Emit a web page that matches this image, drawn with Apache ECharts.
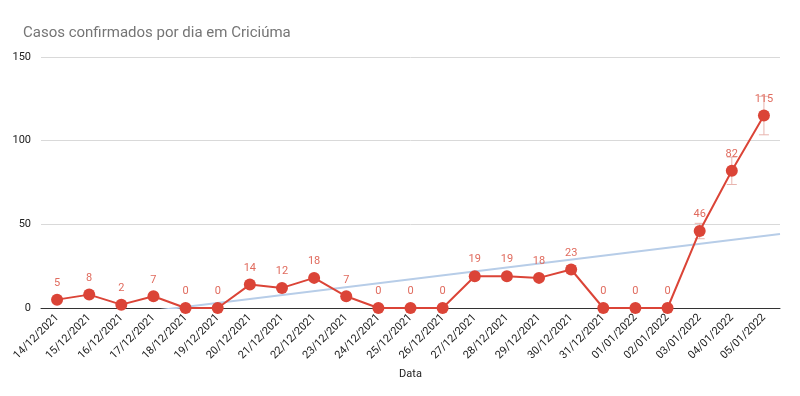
<!DOCTYPE html>
<html><head><meta charset="utf-8">
<script src="https://cdn.jsdelivr.net/npm/echarts@6/dist/echarts.min.js"></script>
<style>html,body{margin:0;padding:0;background:#fff}#c{width:800px;height:396px}</style>
</head><body><div id="c"></div>
<script>
const categories = ['14/12/2021','15/12/2021','16/12/2021','17/12/2021','18/12/2021','19/12/2021','20/12/2021','21/12/2021','22/12/2021','23/12/2021','24/12/2021','25/12/2021','26/12/2021','27/12/2021','28/12/2021','29/12/2021','30/12/2021','31/12/2021','01/01/2022','02/01/2022','03/01/2022','04/01/2022','05/01/2022'];
const casos = [5,8,2,7,0,0,14,12,18,7,0,0,0,19,19,18,23,0,0,0,46,82,115];
const yTicks = [0,50,100,150];
const errorPct = 0.10;

// least-squares trendline from the data
const n = casos.length;
const mx = (n-1)/2, my = casos.reduce((a,b)=>a+b,0)/n;
let sxy=0,sxx=0;
casos.forEach((v,i)=>{sxy+=(i-mx)*(v-my);sxx+=(i-mx)*(i-mx);});
const slope = sxy/sxx, icpt = my - slope*mx;
const trend = [[-0.5, icpt + slope*-0.5],[n-0.5, icpt + slope*(n-0.5)]];

const chart = echarts.init(document.getElementById('c'));
chart.setOption({
  animation:false,
  title:{text:'Casos confirmados por dia em Criciúma',left:18,top:21,textStyle:{fontFamily:'Roboto',fontSize:15,fontWeight:'normal',color:'#757575'}},
  grid:{left:41,right:20,top:57,bottom:88},
  xAxis:[{
    type:'category',data:categories,boundaryGap:true,
    name:'Data',nameLocation:'middle',nameGap:53,
    nameTextStyle:{fontFamily:'Roboto',fontSize:11,color:'#222'},
    axisLine:{lineStyle:{color:'#333',width:1}},
    axisTick:{show:false},
    axisLabel:{rotate:45,interval:0,fontFamily:'Roboto',fontSize:11,color:'#222',margin:8}
  },{
    type:'value',min:-0.5,max:n-0.5,show:false
  }],
  yAxis:{
    type:'value',min:yTicks[0],max:yTicks[yTicks.length-1],interval:50,
    axisLine:{show:false},axisTick:{show:false},
    axisLabel:{fontFamily:'Roboto',fontSize:11,color:'#222',margin:10},
    splitLine:{lineStyle:{color:'#d9d9d9',width:1}}
  },
  series:[{
    type:'line',xAxisIndex:1,data:trend,symbol:'none',silent:true,clip:true,
    lineStyle:{color:'#b7cde8',width:2},z:1
  },{
    type:'custom',xAxisIndex:0,
    data:casos.map((v,i)=>[i,v*(1-errorPct),v*(1+errorPct)]),
    renderItem:function(params,api){
      const lo=api.coord([api.value(0),api.value(1)]);
      const hi=api.coord([api.value(0),api.value(2)]);
      const w=5;
      const st={stroke:'#e8b4ae',lineWidth:1};
      return {type:'group',children:[
        {type:'line',shape:{x1:lo[0],y1:lo[1],x2:hi[0],y2:hi[1]},style:st},
        {type:'line',shape:{x1:lo[0]-w,y1:lo[1],x2:lo[0]+w,y2:lo[1]},style:st},
        {type:'line',shape:{x1:hi[0]-w,y1:hi[1],x2:hi[0]+w,y2:hi[1]},style:st}
      ]};
    },z:2
  },{
    type:'line',data:casos,symbol:'circle',symbolSize:12,
    lineStyle:{color:'#db4437',width:2},itemStyle:{color:'#db4437'},
    label:{show:true,position:'top',distance:5,fontFamily:'Roboto',fontSize:11,color:'#e06b5e'},
    z:3
  }]
});
</script></body></html>
